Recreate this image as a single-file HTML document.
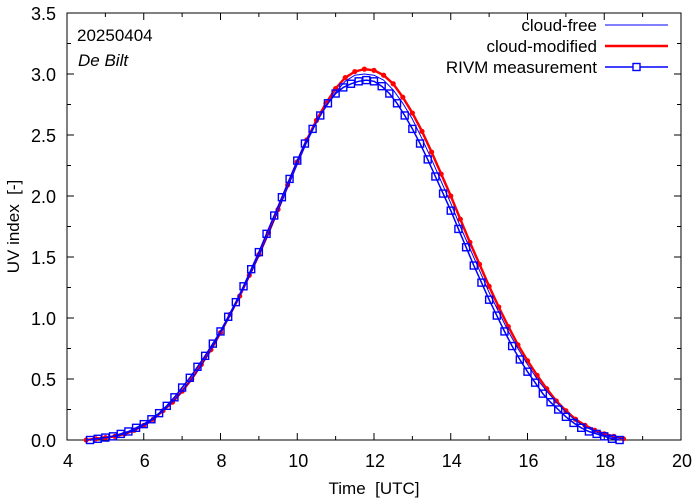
<!DOCTYPE html>
<html><head><meta charset="utf-8"><style>
body{margin:0;background:#fff}
svg{display:block;font-family:"Liberation Sans",sans-serif}
text{white-space:pre}
</style></head><body>
<svg id="chart" width="694" height="501" viewBox="0 0 694 501" xmlns="http://www.w3.org/2000/svg"></svg>
<script>
const xTicks=[4,6,8,10,12,14,16,18,20];
const yTicks=[0.0,0.5,1.0,1.5,2.0,2.5,3.0,3.5];
const modelStart=4.5, modelStep=0.25;
const cloudModified=[0.00,0.01,0.02,0.03,0.05,0.08,0.12,0.17,0.24,0.31,0.40,0.50,0.62,0.74,0.88,1.03,1.18,1.35,1.52,1.70,1.89,2.09,2.28,2.46,2.62,2.76,2.88,2.97,3.02,3.04,3.03,2.99,2.92,2.81,2.68,2.53,2.36,2.18,2.00,1.81,1.62,1.44,1.26,1.09,0.93,0.78,0.65,0.53,0.42,0.32,0.24,0.17,0.12,0.08,0.05,0.03,0.01];
const cloudFree=[0.00,0.01,0.02,0.03,0.05,0.08,0.12,0.17,0.24,0.31,0.40,0.50,0.61,0.74,0.88,1.02,1.18,1.34,1.51,1.69,1.88,2.07,2.26,2.44,2.60,2.74,2.85,2.94,2.99,3.00,2.99,2.95,2.87,2.76,2.63,2.47,2.30,2.12,1.94,1.75,1.57,1.39,1.21,1.05,0.89,0.75,0.62,0.50,0.40,0.31,0.23,0.16,0.11,0.07,0.04,0.02,0.01];
const measStart=4.6, measStep=0.2;
const measurement=[0.00,0.01,0.02,0.03,0.05,0.07,0.10,0.13,0.17,0.22,0.28,0.35,0.43,0.51,0.60,0.69,0.79,0.89,1.01,1.13,1.26,1.40,1.54,1.69,1.84,1.99,2.14,2.29,2.43,2.55,2.66,2.76,2.84,2.89,2.92,2.94,2.95,2.94,2.90,2.84,2.76,2.66,2.55,2.43,2.30,2.16,2.02,1.88,1.73,1.58,1.43,1.29,1.15,1.02,0.89,0.77,0.66,0.56,0.47,0.38,0.31,0.25,0.19,0.14,0.10,0.07,0.05,0.03,0.01,0.00];
const legendLabels=["cloud-free","cloud-modified","RIVM measurement"];

const NS="http://www.w3.org/2000/svg";
const svg=document.getElementById('chart');
const L=67,R=681,T=13,B=440;
const X=v=>L+(v-4)/16*(R-L);
const Y=v=>B-v/3.5*(B-T);
function mk(tag,attrs,parent){const e=document.createElementNS(NS,tag);for(const k in attrs)e.setAttribute(k,attrs[k]);(parent||svg).appendChild(e);return e;}

const frame=mk('rect',{x:L,y:T,width:R-L,height:B-T,fill:'none',stroke:'#000','stroke-width':1});


for(let v=4;v<=20;v+=1){const major=(v%2===0);const len=major?7:4;
 const t1=mk('line',{x1:X(v),x2:X(v),y1:B,y2:B-len,stroke:'#000'});
 
 
 const t2=mk('line',{x1:X(v),x2:X(v),y1:T,y2:T+len,stroke:'#000'});
 
 }
xTicks.forEach(v=>{const t=mk('text',{x:X(v)+1,y:B+27,'text-anchor':'middle','font-size':18});t.textContent=v;
 
 });
for(let i=0;i<=14;i++){const v=i*0.25;const major=(i%2===0);const len=major?7:4;
 const t1=mk('line',{x1:L,x2:L+len,y1:Y(v),y2:Y(v),stroke:'#000'});
 
 
 const t2=mk('line',{x1:R,x2:R-len,y1:Y(v),y2:Y(v),stroke:'#000'});
 
 }
yTicks.forEach(v=>{const t=mk('text',{x:L-11,y:Y(v)+7,'text-anchor':'end','font-size':18});t.textContent=v.toFixed(1);
 
 });
const xt=mk('text',{x:(L+R)/2,y:494,'text-anchor':'middle','font-size':17});xt.textContent='Time  [UTC]';


const yt=mk('text',{x:0,y:0,'text-anchor':'middle','font-size':17,transform:`translate(19,${(T+B)/2}) rotate(-90)`});yt.textContent='UV index  [-]';


const d1=mk('text',{x:77,y:41,'font-size':17});d1.textContent='20250404';


const d2=mk('text',{x:78,y:66,'font-size':17,'font-style':'italic'});d2.textContent='De Bilt';



function pts(arr,start,step){return arr.map((v,i)=>X(start+i*step).toFixed(1)+','+Y(v).toFixed(1)).join(' ');}
const redLine=mk('polyline',{points:pts(cloudModified,modelStart,modelStep),fill:'none',stroke:'#ff0000','stroke-width':2.5});


cloudModified.forEach((v,i)=>{const c=mk('circle',{cx:X(modelStart+i*modelStep),cy:Y(v),r:2.6,fill:'#ff0000'});
 
 });
const cf=mk('polyline',{points:pts(cloudFree,modelStart,modelStep),fill:'none',stroke:'#0000ff','stroke-width':1});


const ml=mk('polyline',{points:pts(measurement,measStart,measStep),fill:'none',stroke:'#0000ff','stroke-width':1.5});


measurement.forEach((v,i)=>{const s=mk('rect',{x:X(measStart+i*measStep)-3.5,y:Y(v)-3.5,width:7,height:7,fill:'none',stroke:'#0000ff','stroke-width':1.4});
 
 });

const ly=[25,46,67];
legendLabels.forEach((lab,i)=>{const t=mk('text',{x:597,y:ly[i]+6,'text-anchor':'end','font-size':17});t.textContent=lab;
 
 });
const l1=mk('line',{x1:605,x2:668,y1:ly[0],y2:ly[0],stroke:'#0000ff','stroke-width':1});


const l2=mk('line',{x1:605,x2:668,y1:ly[1],y2:ly[1],stroke:'#ff0000','stroke-width':2.5});


const l3=mk('line',{x1:605,x2:668,y1:ly[2],y2:ly[2],stroke:'#0000ff','stroke-width':1.5});


const l4=mk('rect',{x:633,y:ly[2]-3.5,width:7,height:7,fill:'#fff',stroke:'#0000ff','stroke-width':1.4});


</script>
</body></html>
